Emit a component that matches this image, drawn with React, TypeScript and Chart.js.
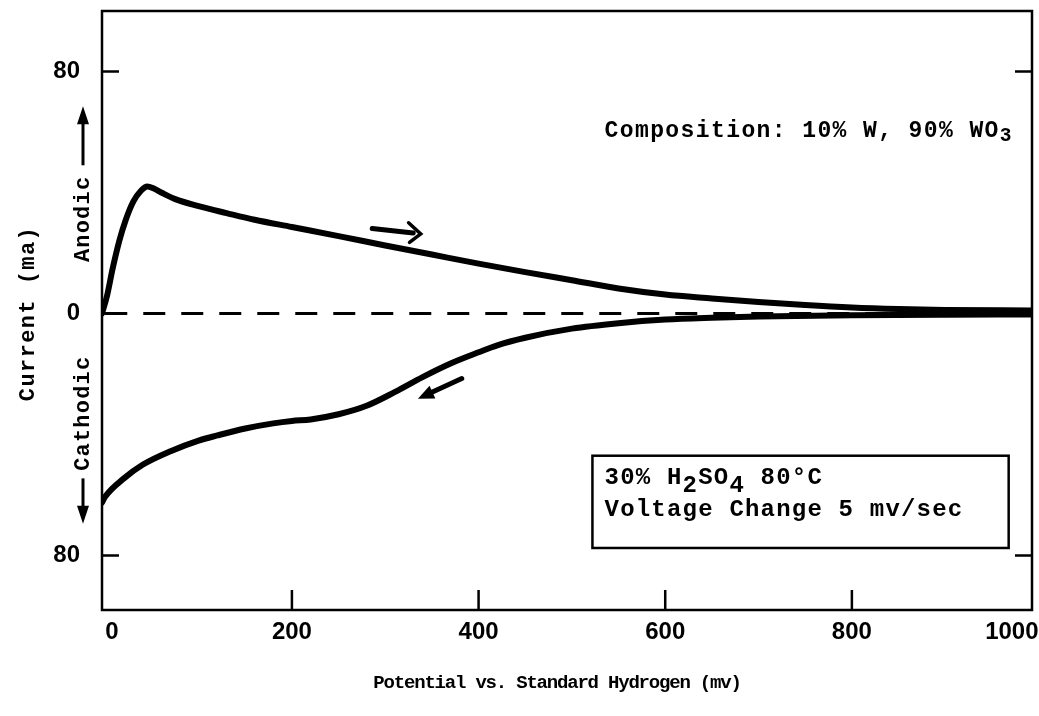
import React, { useEffect, useRef } from "react";
import { Chart, registerables } from "chart.js";

Chart.register(...registerables);

// ---- axis ranges & ticks ----
const X_MIN = -3.5;
const X_MAX = 993;
const Y_MIN = -98;
const Y_MAX = 100;
const xTickValues = [0, 200, 400, 600, 800, 1000];
const yTickValues = [-80, 0, 80];

// ---- forward (anodic) sweep ----
const anodicX = [-3.5, 2, 8, 15, 22, 30, 38, 45, 52, 60, 75, 100, 130, 160, 200, 250, 300, 350, 400, 450, 500, 550, 600, 650, 700, 750, 800, 850, 900, 993];
const anodicY = [0, 6, 15, 24, 31, 37, 40.5, 42, 41.3, 40, 37.8, 35.5, 33.2, 31, 28.6, 25.6, 22.5, 19.5, 16.5, 13.7, 11, 8.3, 6.3, 5, 3.8, 2.8, 2, 1.5, 1.2, 1];

// ---- reverse (cathodic) sweep ----
const cathodicX = [-3.5, 0, 20, 40, 70, 100, 120, 150, 180, 200, 220, 250, 280, 310, 340, 370, 400, 420, 450, 500, 550, 600, 650, 700, 800, 900, 993];
const cathodicY = [-62.5, -60.5, -54.5, -50, -45.5, -42, -40.3, -38, -36.3, -35.5, -35, -33.3, -30.5, -26, -21, -16.5, -12.8, -10.5, -8, -5, -3.2, -2, -1.4, -1, -0.6, -0.4, -0.3];

// ---- zero reference line ----
const zeroX = [0, 993];
const zeroY = [0, 0];

// ---- annotation texts ----
const yTitle = "Current (ma)";
const xTitle = "Potential vs. Standard Hydrogen (mv)";
const anodicLabel = "Anodic";
const cathodicLabel = "Cathodic";
const compositionParts = [
  { t: "Composition: 10% W, 90% WO" },
  { t: "3", sub: true },
];
const boxLine1 = [
  { t: "30% H" },
  { t: "2", sub: true },
  { t: "SO" },
  { t: "4", sub: true },
  { t: " 80°C" },
];
const boxLine2 = [{ t: "Voltage Change 5 mv/sec" }];

const MONO = '"Liberation Mono", "DejaVu Sans Mono", monospace';
const SANS = '"Liberation Sans", Arial, sans-serif';

const toPts = (xs: number[], ys: number[]) => xs.map((x, i) => ({ x, y: ys[i] }));

function drawRich(
  ctx: CanvasRenderingContext2D,
  x: number,
  y: number,
  parts: { t: string; sub?: boolean }[],
  size: number,
  spacing: number,
  subShift: number,
  subScale: number
) {
  let cx = x;
  for (const p of parts) {
    const s = p.sub ? size * subScale : size;
    ctx.font = `bold ${s}px ${MONO}`;
    (ctx as any).letterSpacing = spacing + "px";
    ctx.fillText(p.t, cx, p.sub ? y + subShift : y);
    cx += ctx.measureText(p.t).width;
  }
}

function filledArrowHead(ctx: CanvasRenderingContext2D, tx: number, ty: number, ang: number, len: number, half: number) {
  ctx.beginPath();
  ctx.moveTo(tx, ty);
  ctx.lineTo(tx - len * Math.cos(ang) + half * Math.sin(ang), ty - len * Math.sin(ang) - half * Math.cos(ang));
  ctx.lineTo(tx - len * Math.cos(ang) - half * Math.sin(ang), ty - len * Math.sin(ang) + half * Math.cos(ang));
  ctx.closePath();
  ctx.fill();
}

const zeroPad = (s: any) => {
  s.paddingTop = 0;
  s.paddingBottom = 0;
  s.paddingLeft = 0;
  s.paddingRight = 0;
};

const decorPlugin = {
  id: "decor",
  afterDraw(chart: any) {
    const { ctx, chartArea: a, scales } = chart;
    const xs = scales.x;
    const ys = scales.y;
    const px = (v: number) => xs.getPixelForValue(v);
    const py = (v: number) => ys.getPixelForValue(v);
    ctx.save();
    ctx.strokeStyle = "#000";
    ctx.fillStyle = "#000";

    // frame
    ctx.lineWidth = 2.5;
    ctx.strokeRect(a.left, a.top, a.right - a.left, a.bottom - a.top);

    // inward tick marks
    ctx.beginPath();
    for (const v of yTickValues) {
      const yy = py(v);
      ctx.moveTo(a.left, yy);
      ctx.lineTo(a.left + 17, yy);
      ctx.moveTo(a.right, yy);
      ctx.lineTo(a.right - 17, yy);
    }
    for (const v of xTickValues) {
      if (v <= 0 || v >= X_MAX) continue;
      const xx = px(v);
      ctx.moveTo(xx, a.bottom);
      ctx.lineTo(xx, a.bottom - 20);
    }
    ctx.stroke();

    // y axis title
    ctx.save();
    ctx.translate(28, py(0));
    ctx.rotate(-Math.PI / 2);
    ctx.font = `bold 22px ${MONO}`;
    (ctx as any).letterSpacing = "1.4px";
    ctx.textAlign = "center";
    ctx.textBaseline = "middle";
    ctx.fillText(yTitle, 0, 0);
    ctx.restore();

    // Anodic / Cathodic labels
    const lx = 83;
    ctx.save();
    ctx.translate(lx, py(17));
    ctx.rotate(-Math.PI / 2);
    ctx.font = `bold 22px ${MONO}`;
    (ctx as any).letterSpacing = "1.2px";
    ctx.textAlign = "left";
    ctx.textBaseline = "middle";
    ctx.fillText(anodicLabel, 0, 0);
    ctx.restore();
    ctx.lineWidth = 3;
    ctx.beginPath();
    ctx.moveTo(lx, py(49));
    ctx.lineTo(lx, py(64));
    ctx.stroke();
    filledArrowHead(ctx, lx, py(68.5), -Math.PI / 2, 18, 6);

    ctx.save();
    ctx.translate(lx, py(-52));
    ctx.rotate(-Math.PI / 2);
    ctx.font = `bold 22px ${MONO}`;
    (ctx as any).letterSpacing = "1.2px";
    ctx.textAlign = "left";
    ctx.textBaseline = "middle";
    ctx.fillText(cathodicLabel, 0, 0);
    ctx.restore();
    ctx.beginPath();
    ctx.moveTo(lx, py(-54.5));
    ctx.lineTo(lx, py(-65));
    ctx.stroke();
    filledArrowHead(ctx, lx, py(-69.5), Math.PI / 2, 18, 6);

    // x axis title
    ctx.font = `bold 19px ${MONO}`;
    (ctx as any).letterSpacing = "-1.2px";
    ctx.textAlign = "center";
    ctx.textBaseline = "middle";
    ctx.fillText(xTitle, 557, 683);

    // composition text
    ctx.textAlign = "left";
    ctx.textBaseline = "alphabetic";
    drawRich(ctx, px(535), py(58.3), compositionParts, 23, 1.4, 4, 0.85);

    // sweep-direction arrows
    ctx.lineWidth = 5;
    ctx.lineCap = "round";
    ctx.beginPath();
    ctx.moveTo(px(286), py(28.1));
    ctx.lineTo(px(330), py(26.6));
    ctx.stroke();
    ctx.lineWidth = 3.5;
    ctx.beginPath();
    ctx.moveTo(px(325), py(30));
    ctx.lineTo(px(338), py(26.3));
    ctx.lineTo(px(326), py(23.5));
    ctx.stroke();

    ctx.lineWidth = 5;
    ctx.beginPath();
    const t1x = px(382), t1y = py(-21.5), t2x = px(343), t2y = py(-27);
    ctx.moveTo(t1x, t1y);
    ctx.lineTo(t2x, t2y);
    ctx.stroke();
    const ang = Math.atan2(t2y - t1y, t2x - t1x);
    filledArrowHead(ctx, px(335), py(-28.2), ang, 16, 7);

    // condition box
    ctx.lineWidth = 2.5;
    ctx.lineCap = "butt";
    const bx1 = px(522), bx2 = px(968), by1 = py(-47), by2 = py(-77.5);
    ctx.strokeRect(bx1, by1, bx2 - bx1, by2 - by1);
    drawRich(ctx, px(535), py(-56.3), boxLine1, 24, 1.2, 8, 1);
    drawRich(ctx, px(535), py(-66.9), boxLine2, 24, 1.2, 8, 1);

    ctx.restore();
  },
};

export default function App() {
  const canvasRef = useRef<HTMLCanvasElement | null>(null);

  useEffect(() => {
    if (!canvasRef.current) return;
    const chart = new Chart(canvasRef.current, {
      type: "line",
      data: {
        datasets: [
          {
            data: toPts(anodicX, anodicY),
            borderColor: "#000",
            borderWidth: 6,
            pointRadius: 0,
            cubicInterpolationMode: "monotone",
            borderCapStyle: "round",
            borderJoinStyle: "round",
          },
          {
            data: toPts(cathodicX, cathodicY),
            borderColor: "#000",
            borderWidth: 6,
            pointRadius: 0,
            cubicInterpolationMode: "monotone",
            borderCapStyle: "round",
            borderJoinStyle: "round",
          },
          {
            data: toPts(zeroX, zeroY),
            borderColor: "#000",
            borderWidth: 3,
            borderDash: [22, 16],
            pointRadius: 0,
          },
        ],
      },
      options: {
        animation: false,
        responsive: true,
        maintainAspectRatio: false,
        layout: { padding: { top: 11, right: 7, left: 0, bottom: 0 }, autoPadding: false },
        plugins: { legend: { display: false }, tooltip: { enabled: false } },
        scales: {
          x: {
            type: "linear",
            min: X_MIN,
            max: X_MAX,
            afterBuildTicks: (s: any) => {
              s.ticks = xTickValues.map((v) => ({ value: v }));
            },
            afterFit: (s: any) => {
              s.height = 106;
              zeroPad(s);
            },
            grid: { display: false, drawTicks: false },
            border: { display: false },
            ticks: {
              align: "inner",
              autoSkip: false,
              maxRotation: 0,
              padding: 8,
              color: "#000",
              font: { family: SANS, size: 24, weight: "bold" },
              callback: (v: any) => String(v),
            },
          },
          y: {
            type: "linear",
            min: Y_MIN,
            max: Y_MAX,
            afterBuildTicks: (s: any) => {
              s.ticks = yTickValues.map((v) => ({ value: v }));
            },
            afterFit: (s: any) => {
              s.width = 102;
              zeroPad(s);
            },
            grid: { display: false, drawTicks: false },
            border: { display: false },
            ticks: {
              autoSkip: false,
              padding: 22,
              color: "#000",
              font: { family: SANS, size: 24, weight: "bold" },
              callback: (v: any) => String(Math.abs(Number(v))),
            },
          },
        },
      },
      plugins: [decorPlugin],
    } as any);
    return () => chart.destroy();
  }, []);

  return (
    <div style={{ position: "fixed", left: 0, top: 0, width: 1039, height: 716, background: "#fff" }}>
      <canvas ref={canvasRef} style={{ display: "block" }} />
    </div>
  );
}
